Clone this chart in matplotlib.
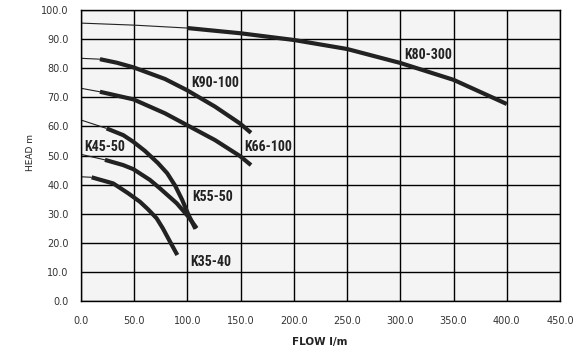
import matplotlib
matplotlib.use("Agg")
from matplotlib import pyplot as plt
from matplotlib import font_manager
import numpy as np

# pump curves: flow (l/m), head (m)
# *_thin = thin lead-in part, *_flow/*_head = the thick curve
k80_thin_flow = [0, 50, 100]
k80_thin_head = [95.5, 94.8, 93.8]
k80_flow = [100, 150, 200, 250, 300, 350, 400]
k80_head = [93.8, 92.0, 89.7, 86.6, 81.8, 76.0, 67.7]

k90_thin_flow = [0, 17.8]
k90_thin_head = [83.4, 83.1]
k90_flow = [17.8, 33.5, 49.2, 78.9, 99.3, 125.9, 149.4, 159.7]
k90_head = [83.1, 81.9, 80.3, 76.3, 72.5, 66.8, 61.0, 57.8]

k66_thin_flow = [0, 17.8]
k66_thin_head = [73.1, 71.9]
k66_flow = [17.8, 49.2, 78.9, 99.3, 125.9, 149.4, 159.7]
k66_head = [71.9, 69.3, 64.5, 60.5, 55.3, 49.8, 46.7]

k55_thin_flow = [0, 24.1]
k55_thin_head = [62.2, 59.3]
k55_flow = [24.1, 39.7, 49.2, 60, 72.3, 81, 88.5, 95, 101, 107.5]
k55_head = [59.3, 57.0, 54.7, 51.6, 47.4, 43.9, 39.6, 34.8, 29.6, 24.8]

k45_thin_flow = [0, 22.5]
k45_thin_head = [50.4, 48.5]
k45_flow = [22.5, 39.7, 49.2, 64.8, 74.2, 89.9, 100.8, 108.7]
k45_head = [48.5, 46.7, 45.3, 41.6, 38.7, 33.6, 29.0, 25.0]

k35_thin_flow = [0, 10]
k35_thin_head = [42.7, 42.5]
k35_flow = [10, 30.3, 44.4, 55.4, 63, 71.1, 77, 82.0, 86, 90.5]
k35_head = [42.5, 40.4, 37.0, 34.1, 31.5, 28.4, 24.9, 21.5, 18.8, 15.8]

labels = ["K80-300", "K90-100", "K66-100", "K45-50", "K55-50", "K35-40"]
label_x = [326, 126, 176, 22, 124, 122]
label_y = [84.5, 74.9, 52.9, 52.9, 35.7, 13.4]

x_ticks = np.arange(0, 451, 50)
y_ticks = np.arange(0, 101, 10)

# condensed bold face for curve names, if one is installed
names = {f.name for f in font_manager.fontManager.ttflist}
narrow = [n for n in ["Liberation Sans Narrow", "DejaVu Sans Condensed", "Roboto Condensed",
                      "Open Sans Condensed", "Noto Sans Condensed"] if n in names]
label_font = narrow + ["DejaVu Sans"]

fig = plt.figure(figsize=(5.78, 3.64), dpi=100)
ax = fig.add_axes([0.1401, 0.1731, 0.8288, 0.7994])
ax.set_facecolor("#f4f4f4")

curves = [(k80_thin_flow, k80_thin_head, k80_flow, k80_head),
          (k90_thin_flow, k90_thin_head, k90_flow, k90_head),
          (k66_thin_flow, k66_thin_head, k66_flow, k66_head),
          (k55_thin_flow, k55_thin_head, k55_flow, k55_head),
          (k45_thin_flow, k45_thin_head, k45_flow, k45_head),
          (k35_thin_flow, k35_thin_head, k35_flow, k35_head)]
for tf, th, f, h in curves:
    ax.plot(tf, th, color="#222222", lw=0.8, solid_capstyle="butt")
    ax.plot(f, h, color="#222222", lw=3.0, solid_capstyle="butt", solid_joinstyle="round")

for lab, lx, ly in zip(labels, label_x, label_y):
    ax.text(lx, ly, lab, ha="center", va="center", fontsize=10, fontweight="bold",
            fontstretch="condensed", family=label_font, color="#222222")

ax.set_xlim(0, 450)
ax.set_ylim(0, 100)
ax.set_xticks(x_ticks)
ax.set_yticks(y_ticks)
ax.set_xticklabels(["%.1f" % v for v in x_ticks])
ax.set_yticklabels(["%.1f" % v for v in y_ticks])
ax.tick_params(length=0, labelsize=7, colors="#333333")
ax.tick_params(axis="x", pad=11)
ax.tick_params(axis="y", pad=9)
ax.grid(True, color="black", lw=1.0)
ax.set_axisbelow(True)
for s in ax.spines.values():
    s.set_color("black")
    s.set_linewidth(1.0)

ax.set_xlabel("FLOW l/m", fontsize=7.5, fontweight="bold", color="#222222")
ax.xaxis.set_label_coords(0.499, -0.125)
ax.set_ylabel("HEAD m", fontsize=6.5, color="#222222")
ax.yaxis.set_label_coords(-0.096, 0.509)

fig.savefig("out.png", dpi=100)
